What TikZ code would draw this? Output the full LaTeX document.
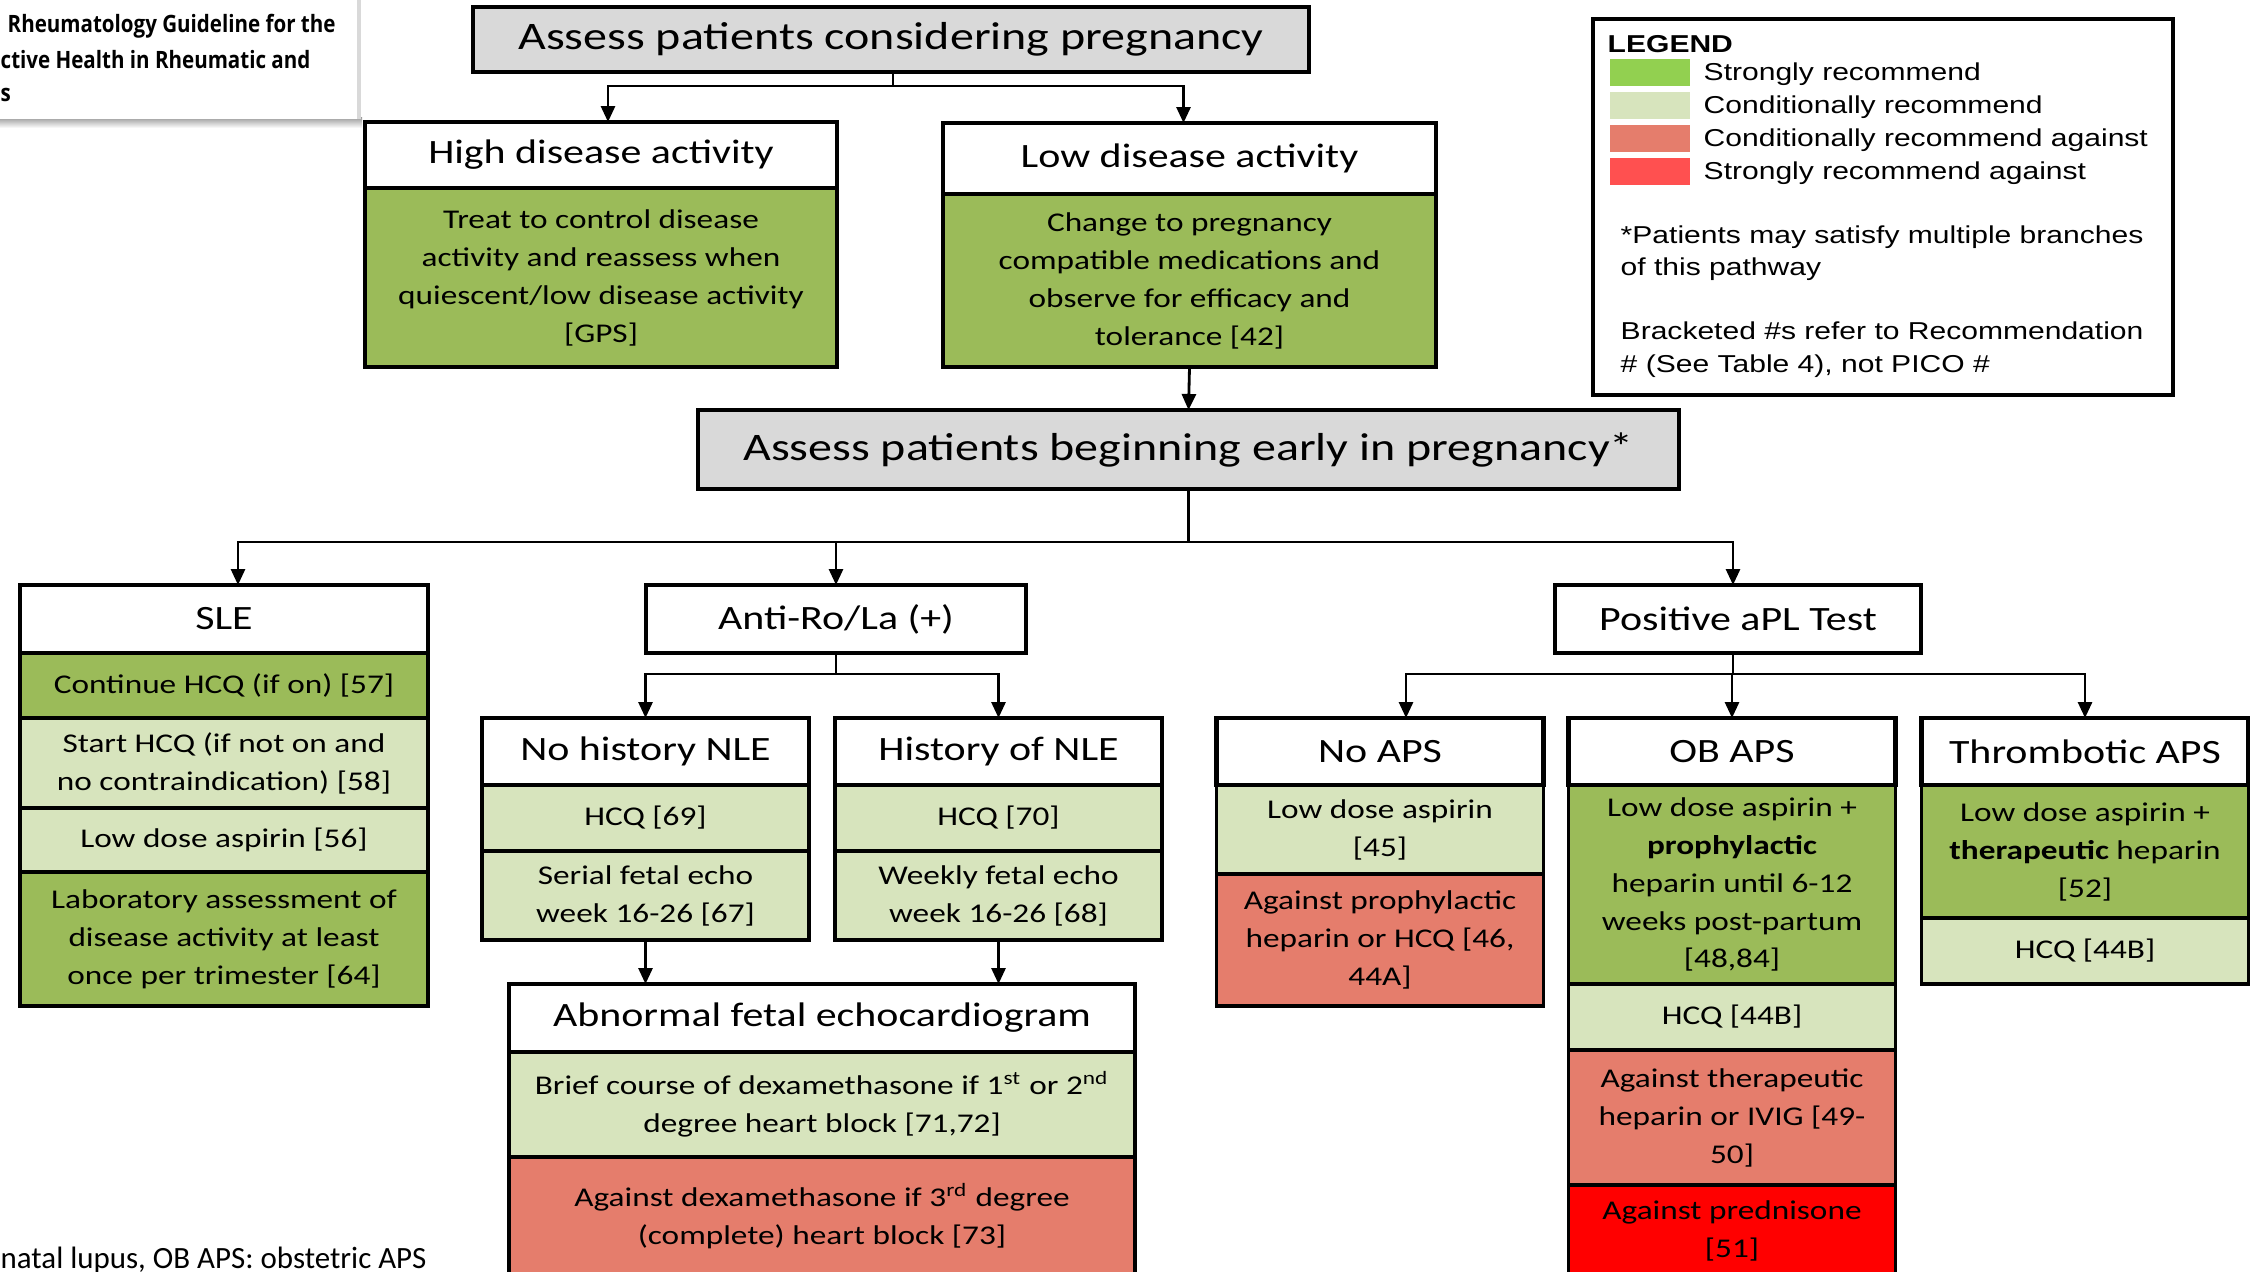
\documentclass[tikz,border=0pt]{standalone}
\usepackage{fontspec}
\setmainfont{Carlito}[FakeStretch=1.23]
\newfontfamily\legendfont{Liberation Sans}[FakeStretch=1.23]
\newfontfamily\capfont{Open Sans}[FakeStretch=0.86]
\newfontfamily\notefont{Carlito}
\usetikzlibrary{arrows.meta,positioning}

\definecolor{titlegray}{HTML}{D9D9D9}
\definecolor{recgreen}{HTML}{9BBB59}
\definecolor{condgreen}{HTML}{D7E4BD}
\definecolor{againstred}{HTML}{E57D6C}
\definecolor{strongred}{HTML}{FF0000}
\definecolor{legendgreen}{HTML}{92D050}
\definecolor{legendred}{HTML}{FF5050}

\tikzset{
  bigbox/.style={draw,line width=1.2pt,fill=titlegray,outer sep=0pt,
    inner sep=0pt,font=\fontsize{11.1}{13}\selectfont},
  headbox/.style={draw,line width=1.2pt,fill=white,outer sep=0pt,
    inner sep=0pt,font=\fontsize{9.7}{11.5}\selectfont},
  recbox/.style={draw,line width=0.95pt,outer sep=0pt,inner sep=0pt,
    align=center,font=\fontsize{7.7}{10.8}\selectfont},
  strongfor/.style={recbox,fill=recgreen},
  condfor/.style={recbox,fill=condgreen},
  condagainst/.style={recbox,fill=againstred},
  strongagainst/.style={recbox,fill=strongred},
  narrowcol/.style={minimum width=32.7mm},
  arr/.style={line width=0.8pt,-{Triangle[length=1.6mm,width=1.4mm]}},
  link/.style={line width=0.8pt},
  swatch/.style={minimum width=8mm,minimum height=2.7mm,inner sep=0pt},
  legtext/.style={anchor=base west,inner sep=0pt,
    font=\legendfont\fontsize{6.95}{9.1}\selectfont},
}

\begin{document}
\begin{tikzpicture}[x=0.1mm,y=-0.1mm]
    \path[use as bounding box] (0,0) rectangle (2250,1271);
    \clip (0,0) rectangle (2250,1271);

    \shade[top color=black!40,bottom color=white] (0,117) rectangle (362,128);
    \fill[white] (0,0) rectangle (359,119);
    \draw[black!15,line width=1pt] (359,0) -- (359,119);
    \node[anchor=base west,inner sep=0pt,font=\capfont\bfseries\fontsize{6.8}{10}\selectfont]
      (cap1) at (7,32) {Rheumatology Guideline for the};
    \node[anchor=base west,inner sep=0pt,font=\capfont\bfseries\fontsize{6.8}{10}\selectfont]
      (cap2) at (0,68) {ctive Health in Rheumatic and};
    \node[anchor=base west,inner sep=0pt,font=\capfont\bfseries\fontsize{6.8}{10}\selectfont]
      (cap3) at (0,101) {s};

    \node[bigbox,minimum width=83.6mm,minimum height=6.5mm] (title) at (891,39.5)
      {Assess patients considering pregnancy};

    \node[headbox,minimum width=47.2mm,minimum height=6.6mm] (high) at (601,155)
      {High disease activity};
    \node[strongfor,minimum width=47.2mm,minimum height=17.9mm,below=0pt of high] (highbody)
      {Treat to control disease\\activity and reassess when\\quiescent/low disease activity\\{[GPS]}};
    \node[headbox,minimum width=49.3mm,minimum height=7.1mm] (low) at (1189.5,158.5)
      {Low disease activity};
    \node[strongfor,minimum width=49.3mm,minimum height=17.3mm,below=0pt of low] (lowbody)
      {Change to pregnancy\\compatible medications and\\observe for efficacy and\\tolerance [42]};

    \node[bigbox,minimum width=98.1mm,minimum height=7.9mm] (early) at (1188.5,449.5)
      {Assess patients beginning early in pregnancy*};

    \node[headbox,minimum width=40.8mm,minimum height=6.8mm] (sle) at (224,619) {SLE};
    \node[strongfor,minimum width=40.8mm,minimum height=6.5mm,below=0pt of sle] (slehcq)
      {Continue HCQ (if on) [57]};
    \node[condfor,minimum width=40.8mm,minimum height=9mm,below=0pt of slehcq] (slestart)
      {Start HCQ (if not on and\\no contraindication) [58]};
    \node[condfor,minimum width=40.8mm,minimum height=6.4mm,below=0pt of slestart] (sleasa)
      {Low dose aspirin [56]};
    \node[strongfor,minimum width=40.8mm,minimum height=13.4mm,below=0pt of sleasa] (slelab)
      {Laboratory assessment of\\disease activity at least\\once per trimester [64]};

    \node[headbox,minimum width=38mm,minimum height=6.8mm] (anti) at (836,619)
      {Anti-Ro/La (+)};
    \node[headbox,narrowcol,minimum height=6.7mm] (nohist) at (645.5,751.5)
      {No history NLE};
    \node[condfor,narrowcol,minimum height=6.6mm,below=0pt of nohist] (nohisthcq)
      {HCQ [69]};
    \node[condfor,narrowcol,minimum height=8.9mm,below=0pt of nohisthcq] (nohistecho)
      {Serial fetal echo\\week 16-26 [67]};
    \node[headbox,narrowcol,minimum height=6.7mm] (hist) at (998.5,751.5)
      {History of NLE};
    \node[condfor,narrowcol,minimum height=6.6mm,below=0pt of hist] (histhcq)
      {HCQ [70]};
    \node[condfor,narrowcol,minimum height=8.9mm,below=0pt of histhcq] (histecho)
      {Weekly fetal echo\\week 16-26 [68]};
    \node[headbox,minimum width=62.6mm,minimum height=6.8mm] (abn) at (822,1018)
      {Abnormal fetal echocardiogram};
    \node[condfor,minimum width=62.6mm,minimum height=10.5mm,below=0pt of abn] (abndex)
      {Brief course of dexamethasone if 1\textsuperscript{st} or 2\textsuperscript{nd}\\degree heart block [71,72]};
    \node[condagainst,minimum width=62.6mm,minimum height=11.8mm,below=0pt of abndex] (abnnodex)
      {Against dexamethasone if 3\textsuperscript{rd} degree\\(complete) heart block [73]};

    \node[headbox,minimum width=36.6mm,minimum height=6.8mm] (apl) at (1738,619)
      {Positive aPL Test};
    \node[headbox,narrowcol,minimum height=6.7mm] (noaps) at (1380,751.5) {No APS};
    \node[condfor,narrowcol,minimum height=8.9mm,below=0pt of noaps] (noapsasa)
      {Low dose aspirin\\{[45]}};
    \node[condagainst,narrowcol,minimum height=13.2mm,below=0pt of noapsasa] (noapshep)
      {Against prophylactic\\heparin or HCQ [46,\\44A]};
    \node[headbox,narrowcol,minimum height=6.7mm] (ob) at (1732,751.5) {OB APS};
    \node[strongfor,narrowcol,minimum height=19.9mm,below=0pt of ob] (obasa)
      {Low dose aspirin +\\\textbf{prophylactic}\\heparin until 6-12\\weeks post-partum\\{[48,84]}};
    \node[condfor,narrowcol,minimum height=6.6mm,below=0pt of obasa] (obhcq)
      {HCQ [44B]};
    \node[condagainst,narrowcol,minimum height=13.5mm,below=0pt of obhcq] (obhep)
      {Against therapeutic\\heparin or IVIG [49-\\50]};
    \node[strongagainst,narrowcol,minimum height=9.2mm,below=0pt of obhep] (obpred)
      {Against prednisone\\{[51]}};
    \node[headbox,narrowcol,minimum height=6.7mm] (thr) at (2085,751.5) {Thrombotic APS};
    \node[strongfor,narrowcol,minimum height=13.3mm,below=0pt of thr] (thrasa)
      {Low dose aspirin +\\\textbf{therapeutic} heparin\\{[52]}};
    \node[condfor,narrowcol,minimum height=6.6mm,below=0pt of thrasa] (thrhcq)
      {HCQ [44B]};

    \coordinate (topfork) at (893,86);
    \draw[link] (title.south -| topfork) -- (topfork);
    \draw[arr] (topfork) -| ([xshift=0.7mm]high.north);
    \draw[arr] (topfork) -| ([xshift=-0.6mm]low.north);
    \draw[arr] (lowbody.south) -- (early.north);

    \coordinate (midfork) at (1188.5,542);
    \draw[link] (early.south) -- (midfork);
    \draw[arr] (midfork) -| ([xshift=1.4mm]sle.north);
    \draw[arr] (midfork) -| (anti.north);
    \draw[arr] (midfork) -| ([xshift=-0.5mm]apl.north);

    \coordinate (antifork) at (836,674);
    \draw[link] (anti.south) -- (antifork);
    \draw[arr] (antifork) -| (nohist.north);
    \draw[arr] (antifork) -| (hist.north);
    \draw[arr] (nohistecho.south) -- (nohistecho.south |- abn.north);
    \draw[arr] (histecho.south) -- (histecho.south |- abn.north);

    \coordinate (aplfork) at (1733,674);
    \draw[link] (apl.south -| aplfork) -- (aplfork);
    \draw[arr] (aplfork) -| ([xshift=2.6mm]noaps.north);
    \draw[arr] (aplfork) -| (ob.north);
    \draw[arr] (aplfork) -| (thr.north);

    \node[draw,line width=1pt,outer sep=0pt,minimum width=58mm,minimum height=37.6mm]
      (legend) at (1883,207) {};
    \node[legtext,font=\legendfont\bfseries\fontsize{6.95}{9.1}\selectfont]
      (legtitle) at (1607,52) {LEGEND};
    \node[swatch,fill=legendgreen] (sw1) at (1650,72) {};
    \node[swatch,fill=condgreen] (sw2) at (1650,105) {};
    \node[swatch,fill=againstred] (sw3) at (1650,138) {};
    \node[swatch,fill=legendred] (sw4) at (1650,171) {};
    \node[legtext] (lab1) at (1703,80) {Strongly recommend};
    \node[legtext] (lab2) at (1703,113) {Conditionally recommend};
    \node[legtext] (lab3) at (1703,146) {Conditionally recommend against};
    \node[legtext] (lab4) at (1703,179) {Strongly recommend against};
    \node[legtext] (note1) at (1620,243) {*Patients may satisfy multiple branches};
    \node[legtext] (note2) at (1620,275) {of this pathway};
    \node[legtext] (note3) at (1620,339) {Bracketed \#s refer to Recommendation};
    \node[legtext] (note4) at (1620,372) {\# (See Table 4), not PICO \#};

    \node[anchor=base west,inner sep=0pt,font=\notefont\fontsize{8.8}{10}\selectfont]
      (abbrev) at (0,1268) {natal lupus, OB APS: obstetric APS};
\end{tikzpicture}
\end{document}
